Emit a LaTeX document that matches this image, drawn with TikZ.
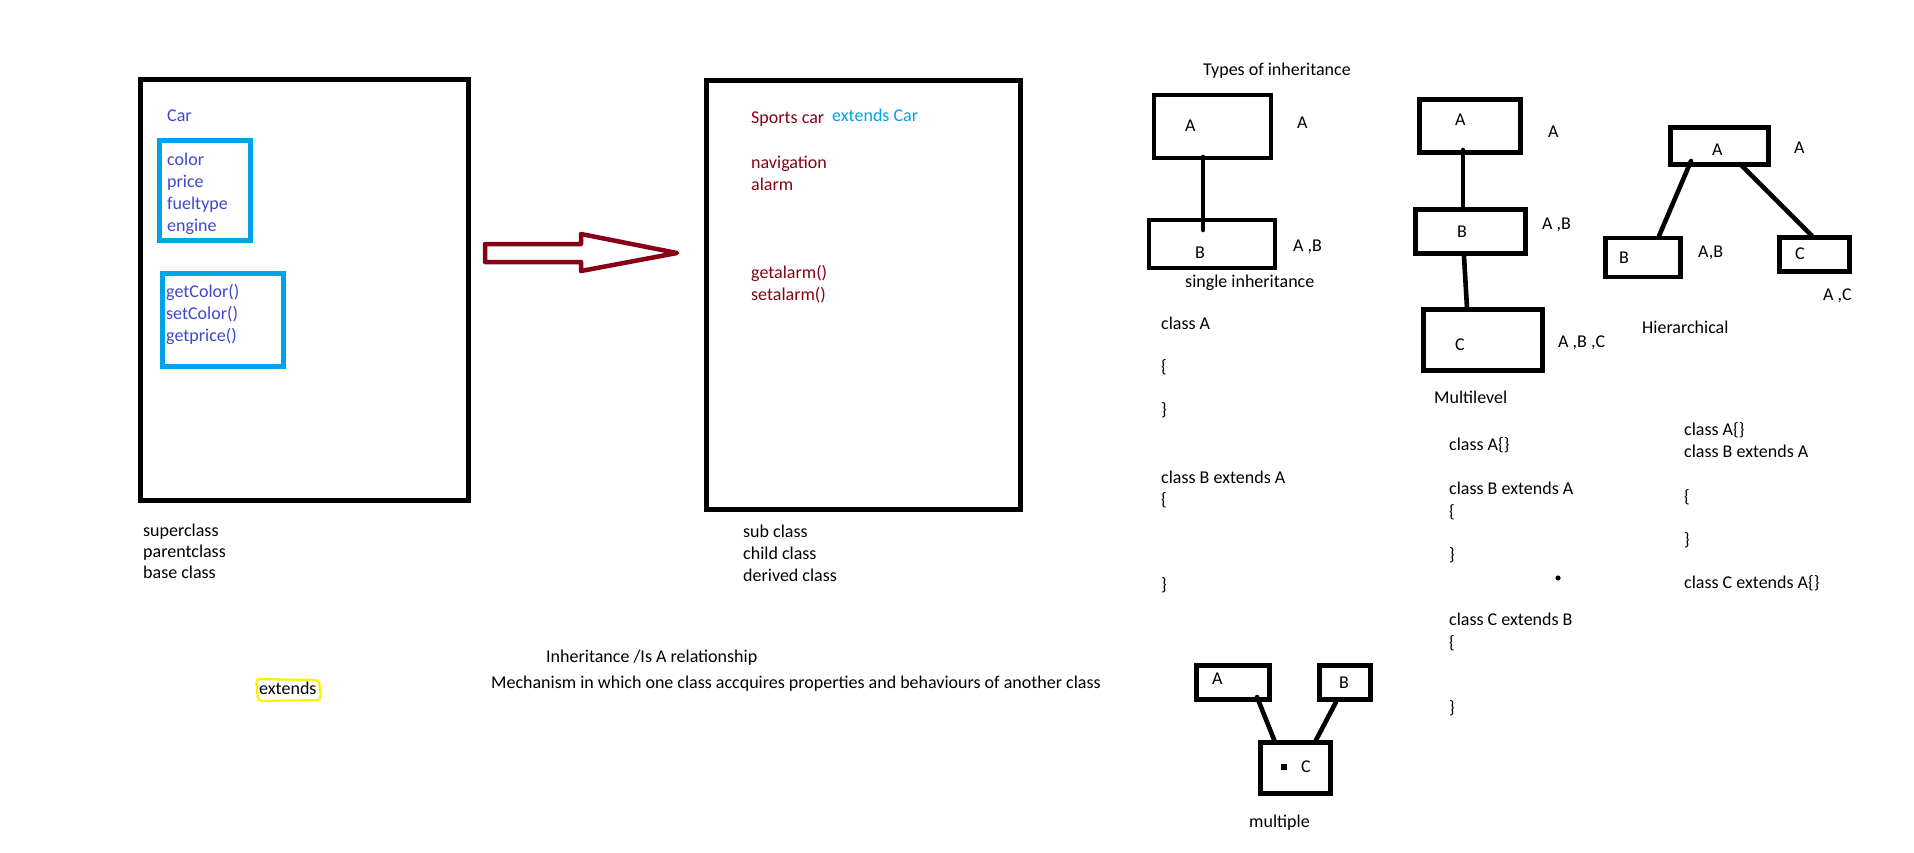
\documentclass[tikz,border=0pt]{standalone}
\usepackage{fontspec}
\setmainfont{Carlito}
\definecolor{cblue}{HTML}{3F48CC}
\definecolor{cred}{HTML}{880015}
\definecolor{cltblue}{HTML}{00A2E8}
\definecolor{cyel}{HTML}{FFF200}
\begin{document}
\begin{tikzpicture}[x=1pt,y=-1pt,
  txt/.style={anchor=base west,inner sep=0pt,font=\fontsize{18}{22}\selectfont},
  bt/.style={txt,text=cblue},
  rt/.style={txt,text=cred},
  bigbox/.style={draw,line width=5pt,inner sep=0pt},
  bluebox/.style={draw=cltblue,line width=5pt,inner sep=0pt},
  cbox/.style={draw,line width=4.6pt,inner sep=0pt},
  link/.style={line width=4.6pt,line cap=round}]
\useasboundingbox (0,0) rectangle (1914,852);
\fill[white] (0,0) rectangle (1914,852);

% superclass box
\node[bigbox,minimum width=328pt,minimum height=421pt] (car) at (304.5,290) {};
\node[bt] (carT) at (167,121) {Car};
\node[bluebox,minimum width=91pt,minimum height=100pt] (attr) at (205,190.5) {};
\node[bt] (t1) at (167,165) {color};
\node[bt] (t2) at (167,187) {price};
\node[bt] (t3) at (167,209) {fueltype};
\node[bt] (t4) at (167,231) {engine};
\node[bluebox,minimum width=121pt,minimum height=93pt] (meth) at (223,320) {};
\node[bt] (m1) at (166,297) {getColor()};
\node[bt] (m2) at (166,319) {setColor()};
\node[bt] (m3) at (166,341) {getprice()};
\node[txt] (s1) at (143,536) {superclass};
\node[txt] (s2) at (143,557) {parentclass};
\node[txt] (s3) at (143,578) {base class};

% arrow
\coordinate (a1) at (485,244);
\coordinate (a2) at (581,244);
\coordinate (a3) at (581,234);
\coordinate (a4) at (677,253);
\coordinate (a5) at (581,271);
\coordinate (a6) at (581,262);
\coordinate (a7) at (485,262);
\draw[cred,line width=4.5pt,line join=round] (a1) -- (a2) -- (a3) -- (a4) -- (a5) -- (a6) -- (a7) -- cycle;

% subclass box
\node[bigbox,minimum width=314pt,minimum height=429pt] (sport) at (863.5,295) {};
\node[rt] (sp) at (751,123) {Sports car};
\node[txt,text=cltblue] (ext) at (832,121) {extends Car};
\node[rt] (n1) at (751,168) {navigation};
\node[rt] (n2) at (751,190) {alarm};
\node[rt] (n3) at (751,278) {getalarm()};
\node[rt] (n4) at (751,300) {setalarm()};
\node[txt] (u1) at (743,537) {sub class};
\node[txt] (u2) at (743,559) {child class};
\node[txt] (u3) at (743,581) {derived class};

% bottom texts
\node[txt] (inh) at (546,662) {Inheritance /Is A relationship};
\node[txt] (mech) at (491,688) {Mechanism in which one class accquires properties and behaviours of another class};
\node[txt] (extw) at (259,694) {extends};
\draw[cyel,line width=2.2pt,rounded corners=4pt] (256,679) -- (319,680) -- (321,700) -- (258,701) -- cycle;

% single inheritance
\node[txt] (types) at (1203,75) {Types of inheritance};
\node[cbox,minimum width=117pt,minimum height=63pt] (sA) at (1212.5,126.5) {};
\node[txt] (sAt) at (1185,131) {A};
\node[txt] (sAl) at (1297,128) {A};
\node[cbox,minimum width=126pt,minimum height=48pt] (sB) at (1212,244) {};
\node[txt] (sBt) at (1195,258) {B};
\node[txt] (sBl) at (1293,251) {A ,B};
\coordinate (sL1) at (1203,157);
\coordinate (sL2) at (1203,230);
\draw[link] (sL1) -- (sL2);
\node[txt] (single) at (1185,287) {single inheritance};
\node[txt] (c1) at (1161,329) {class A};
\node[txt] (c2) at (1161,372) {\{};
\node[txt] (c3) at (1161,415) {\}};
\node[txt] (c4) at (1161,483) {class B extends A};
\node[txt] (c5) at (1161,505) {\{};
\node[txt] (c6) at (1161,590) {\}};

% multilevel
\node[cbox,minimum width=101pt,minimum height=53pt] (mA) at (1470,126) {};
\node[txt] (mAt) at (1455,125) {A};
\node[txt] (mAl) at (1548,137) {A};
\node[cbox,minimum width=110pt,minimum height=44pt] (mB) at (1470.5,231.5) {};
\node[txt] (mBt) at (1457,237) {B};
\node[txt] (mBl) at (1542,229) {A ,B};
\node[cbox,minimum width=119pt,minimum height=61pt] (mC) at (1483,340) {};
\node[txt] (mCt) at (1455,350) {C};
\node[txt] (mCl) at (1558,347) {A ,B ,C};
\coordinate (mL1) at (1463,150);
\coordinate (mL2) at (1463,207);
\coordinate (mL3) at (1464,256);
\coordinate (mL4) at (1467,308);
\draw[link] (mL1) -- (mL2);
\draw[link] (mL3) -- (mL4);
\node[txt] (multi) at (1434,403) {Multilevel};
\node[txt] (d1) at (1449,450) {class A\{\}};
\node[txt] (d2) at (1449,494) {class B extends A};
\node[txt] (d3) at (1449,517) {\{};
\node[txt] (d4) at (1449,560) {\}};
\fill (1558,578) circle (2.6pt);
\node[txt] (d5) at (1449,625) {class C extends B};
\node[txt] (d6) at (1449,648) {\{};
\node[txt] (d7) at (1449,713) {\}};

% hierarchical
\node[cbox,minimum width=98pt,minimum height=37pt] (hA) at (1719.5,146) {};
\node[txt] (hAt) at (1712,155) {A};
\node[txt] (hAl) at (1794,153) {A};
\node[cbox,minimum width=75pt,minimum height=39pt] (hB) at (1643,257.5) {};
\node[txt] (hBt) at (1619,263) {B};
\node[txt] (hBl) at (1698,257) {A,B};
\node[cbox,minimum width=70pt,minimum height=34pt] (hC) at (1814.5,254.5) {};
\node[txt] (hCt) at (1795,259) {C};
\node[txt] (hCl) at (1823,300) {A ,C};
\coordinate (hL1) at (1691,161);
\coordinate (hL2) at (1659,236);
\coordinate (hL3) at (1742,166);
\coordinate (hL4) at (1812,236);
\draw[link] (hL1) -- (hL2);
\draw[link] (hL3) -- (hL4);
\node[txt] (hier) at (1642,333) {Hierarchical};
\node[txt] (e1) at (1684,435) {class A\{\}};
\node[txt] (e2) at (1684,457) {class B extends A};
\node[txt] (e3) at (1684,502) {\{};
\node[txt] (e4) at (1684,545) {\}};
\node[txt] (e5) at (1684,588) {class C extends A\{\}};

% multiple
\node[cbox,minimum width=73pt,minimum height=34pt] (xA) at (1233,682.5) {};
\node[txt] (xAt) at (1212,684) {A};
\node[cbox,minimum width=51pt,minimum height=34pt] (xB) at (1345,682.5) {};
\node[txt] (xBt) at (1339,688) {B};
\node[cbox,minimum width=70pt,minimum height=51pt] (xC) at (1295.5,768) {};
\node[txt] (xCt) at (1301,772) {C};
\fill (1281,764) rectangle (1287,770);
\coordinate (xL1) at (1257,697);
\coordinate (xL2) at (1275,742);
\coordinate (xL3) at (1336,702);
\coordinate (xL4) at (1315,742);
\draw[link] (xL1) -- (xL2);
\draw[link] (xL3) -- (xL4);
\node[txt] (multiple) at (1249,827) {multiple};
\end{tikzpicture}
\end{document}
